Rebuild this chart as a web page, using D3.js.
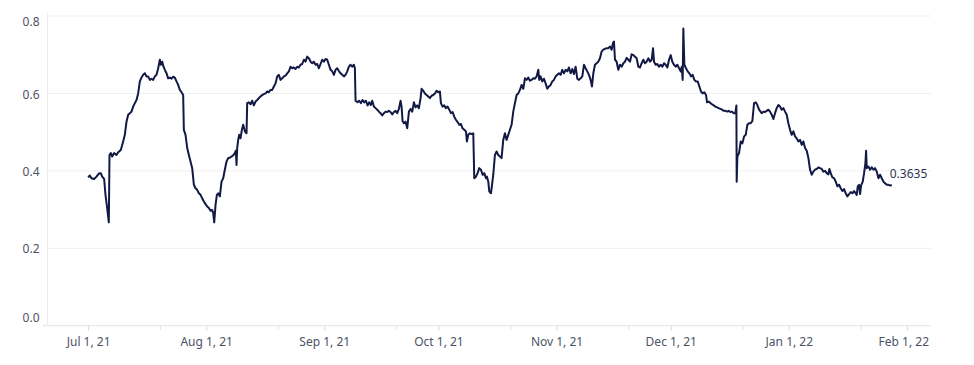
<!DOCTYPE html>
<html>
<head>
<meta charset="utf-8">
<script src="https://cdn.jsdelivr.net/npm/d3@7"></script>
<style>
body { margin: 0; background: #fff; }
svg text { font-family: "Noto Sans", sans-serif; }
</style>
</head>
<body>
<div id="chart"></div>
<script>
// days counted from Jul 1, 2021
const startDay = new Date(2021, 6, 1);

const dayOffsets = [
  0.01, 0.45, 0.88, 1.58, 2.20, 2.81, 3.33, 3.69, 4.21, 4.56, 5.00, 5.44, 5.61, 5.96, 6.31, 6.84, 7.45, 7.89, 8.59, 9.20,
  9.64, 10.08, 10.52, 10.96, 11.39, 11.83, 12.27, 12.71, 13.14, 13.58, 14.02, 14.46, 14.89, 15.33, 15.77, 16.21, 16.65, 17.08, 17.52, 17.96,
  18.40, 18.84, 19.10, 19.45, 19.80, 20.15, 20.59, 21.02, 21.46, 21.90, 22.34, 22.78, 23.21, 23.65, 24.09, 24.53, 24.96, 25.14, 25.58, 26.02,
  26.45, 26.89, 27.33, 27.77, 28.20, 28.64, 29.08, 29.52, 29.96, 30.39, 30.83, 31.27, 31.71, 32.15, 32.58, 32.85, 33.11, 33.46, 33.81, 34.16,
  34.59, 35.03, 35.47, 35.90, 36.34, 36.78, 37.22, 37.65, 38.09, 38.53, 38.79, 38.97, 39.14, 39.41, 39.67, 40.02, 40.37, 40.72, 41.16, 41.60,
  41.77, 42.21, 42.65, 43.08, 43.52, 43.96, 44.40, 44.84, 45.27, 45.71, 46.15, 46.59, 47.02, 47.46, 47.90, 48.34, 48.78, 49.21, 49.65, 50.09,
  50.53, 50.96, 51.40, 51.84, 52.28, 52.72, 53.15, 53.59, 54.03, 54.47, 54.91, 55.34, 55.78, 56.22, 56.66, 57.09, 57.53, 57.97, 58.41, 58.85,
  59.28, 59.72, 60.16, 60.60, 61.03, 61.47, 61.91, 62.35, 62.79, 63.22, 63.66, 64.10, 64.54, 64.98, 65.41, 65.85, 66.29, 66.73, 67.16, 67.60,
  68.04, 68.48, 68.92, 69.35, 69.79, 70.05, 70.23, 70.75, 71.19, 71.63, 72.06, 72.50, 72.94, 73.38, 73.82, 74.25, 74.60, 75.04, 75.48, 75.92,
  76.35, 76.79, 77.23, 77.67, 78.11, 78.54, 78.98, 79.42, 79.86, 80.30, 80.73, 81.17, 81.61, 82.05, 82.31, 82.57, 82.92, 83.36, 83.80, 84.24,
  84.67, 85.11, 85.55, 85.99, 86.42, 86.86, 87.30, 87.56, 88.00, 88.44, 88.88, 89.31, 89.75, 90.19, 90.63, 91.07, 91.50, 91.94, 92.38, 92.64,
  93.08, 93.52, 93.96, 94.39, 94.83, 95.27, 95.71, 96.14, 96.58, 97.02, 97.46, 97.90, 98.33, 98.77, 99.21, 99.47, 99.82, 100.26, 100.70, 101.14,
  101.40, 101.84, 102.27, 102.71, 103.15, 103.59, 104.03, 104.46, 104.73, 105.08, 105.34, 105.78, 105.95, 106.39, 106.82, 107.26, 107.70, 108.14, 108.57, 109.01,
  109.45, 109.89, 110.33, 110.76, 111.20, 111.64, 112.08, 112.52, 112.95, 113.39, 113.83, 114.27, 114.70, 115.14, 115.58, 116.02, 116.46, 116.89, 117.33, 117.77,
  118.21, 118.47, 118.82, 119.26, 119.70, 120.13, 120.57, 121.01, 121.45, 121.88, 122.32, 122.76, 123.20, 123.64, 124.07, 124.51, 124.95, 125.39, 125.83, 126.26,
  126.70, 127.14, 127.58, 128.01, 128.45, 128.89, 129.33, 129.77, 130.20, 130.64, 131.08, 131.52, 131.95, 132.31, 132.66, 133.09, 133.53, 133.97, 134.41, 134.84,
  135.28, 135.72, 136.16, 136.60, 137.03, 137.47, 137.82, 138.08, 138.35, 138.78, 139.22, 139.66, 140.10, 140.54, 140.97, 141.42, 141.86, 142.29, 142.73, 143.17,
  143.61, 144.04, 144.48, 144.92, 145.36, 145.80, 146.23, 146.67, 147.11, 147.55, 147.99, 148.34, 148.60, 149.04, 149.47, 149.91, 150.35, 150.79, 151.23, 151.66,
  152.10, 152.54, 152.98, 153.41, 153.85, 154.29, 154.73, 155.17, 155.60, 155.87, 156.13, 156.30, 156.57, 157.00, 157.44, 157.88, 158.32, 158.76, 159.19, 159.63,
  160.07, 160.51, 160.94, 161.38, 161.82, 162.26, 162.52, 162.96, 163.40, 163.83, 164.27, 164.71, 165.15, 165.59, 166.02, 166.46, 166.90, 167.34, 167.78, 168.21,
  168.65, 169.09, 169.53, 169.96, 170.23, 170.31, 170.49, 170.93, 171.37, 171.80, 172.24, 172.68, 173.12, 173.55, 173.99, 174.43, 174.87, 175.31, 175.74, 176.18,
  176.88, 177.32, 177.75, 178.19, 178.63, 179.07, 179.50, 179.94, 180.38, 180.82, 181.26, 181.69, 182.13, 182.57, 183.01, 183.45, 183.88, 184.32, 184.76, 185.20,
  185.63, 186.07, 186.51, 186.95, 187.39, 187.82, 188.26, 188.70, 189.14, 189.57, 190.01, 190.45, 190.89, 191.33, 191.76, 192.20, 192.64, 193.08, 193.52, 193.95,
  194.39, 194.65, 195.00, 195.44, 195.88, 196.32, 196.76, 197.19, 197.63, 198.07, 198.51, 198.94, 199.38, 199.82, 200.26, 200.70, 201.13, 201.57, 201.83, 202.10,
  202.45, 202.71, 202.97, 203.41, 203.76, 204.11, 204.29, 204.46, 204.90, 205.34, 205.77, 206.21, 206.65, 207.09, 207.53, 207.96, 208.40, 208.84, 209.28, 209.71,
  210.15, 210.59, 211.03
];

const values = [
  0.383, 0.388, 0.381, 0.379, 0.385, 0.393, 0.394, 0.385, 0.379, 0.338, 0.304, 0.267, 0.441, 0.446, 0.437, 0.446, 0.441, 0.448, 0.454, 0.476,
  0.493, 0.527, 0.545, 0.549, 0.553, 0.566, 0.575, 0.583, 0.600, 0.631, 0.641, 0.648, 0.652, 0.644, 0.644, 0.635, 0.638, 0.635, 0.644, 0.648,
  0.665, 0.687, 0.674, 0.682, 0.669, 0.661, 0.652, 0.639, 0.641, 0.638, 0.643, 0.641, 0.631, 0.622, 0.609, 0.603, 0.596, 0.506, 0.493, 0.459,
  0.441, 0.424, 0.407, 0.364, 0.355, 0.351, 0.342, 0.338, 0.329, 0.321, 0.314, 0.308, 0.304, 0.297, 0.299, 0.291, 0.267, 0.312, 0.338, 0.342,
  0.334, 0.372, 0.381, 0.403, 0.424, 0.433, 0.434, 0.437, 0.440, 0.446, 0.452, 0.415, 0.459, 0.480, 0.493, 0.484, 0.506, 0.519, 0.502, 0.497,
  0.575, 0.577, 0.572, 0.581, 0.569, 0.579, 0.583, 0.588, 0.592, 0.596, 0.598, 0.600, 0.605, 0.603, 0.609, 0.609, 0.618, 0.626, 0.644, 0.648,
  0.635, 0.639, 0.644, 0.646, 0.652, 0.657, 0.669, 0.665, 0.667, 0.663, 0.669, 0.667, 0.674, 0.676, 0.687, 0.682, 0.695, 0.691, 0.682, 0.678,
  0.682, 0.674, 0.676, 0.665, 0.676, 0.687, 0.682, 0.689, 0.687, 0.674, 0.661, 0.657, 0.648, 0.661, 0.665, 0.658, 0.652, 0.648, 0.644, 0.648,
  0.657, 0.669, 0.674, 0.669, 0.674, 0.665, 0.581, 0.577, 0.581, 0.575, 0.583, 0.577, 0.581, 0.569, 0.577, 0.570, 0.581, 0.566, 0.562, 0.558,
  0.553, 0.549, 0.543, 0.549, 0.553, 0.552, 0.555, 0.552, 0.546, 0.552, 0.555, 0.549, 0.560, 0.581, 0.566, 0.529, 0.523, 0.527, 0.510, 0.553,
  0.560, 0.553, 0.577, 0.564, 0.569, 0.562, 0.588, 0.612, 0.607, 0.600, 0.596, 0.592, 0.588, 0.594, 0.596, 0.600, 0.607, 0.603, 0.605, 0.575,
  0.566, 0.569, 0.562, 0.566, 0.558, 0.549, 0.552, 0.540, 0.532, 0.526, 0.519, 0.521, 0.510, 0.506, 0.502, 0.476, 0.493, 0.497, 0.495, 0.497,
  0.381, 0.385, 0.394, 0.407, 0.403, 0.390, 0.394, 0.381, 0.385, 0.372, 0.347, 0.342, 0.355, 0.390, 0.441, 0.450, 0.441, 0.437, 0.433, 0.480,
  0.497, 0.480, 0.493, 0.506, 0.519, 0.553, 0.575, 0.596, 0.600, 0.609, 0.622, 0.612, 0.639, 0.635, 0.641, 0.633, 0.635, 0.639, 0.638, 0.644,
  0.661, 0.635, 0.644, 0.631, 0.638, 0.626, 0.612, 0.618, 0.622, 0.631, 0.635, 0.644, 0.648, 0.652, 0.648, 0.661, 0.652, 0.661, 0.657, 0.667,
  0.652, 0.663, 0.650, 0.669, 0.638, 0.635, 0.639, 0.644, 0.674, 0.665, 0.657, 0.648, 0.635, 0.618, 0.652, 0.674, 0.678, 0.682, 0.691, 0.708,
  0.713, 0.715, 0.717, 0.717, 0.721, 0.713, 0.730, 0.734, 0.687, 0.682, 0.661, 0.674, 0.669, 0.678, 0.682, 0.692, 0.687, 0.682, 0.701, 0.699,
  0.695, 0.691, 0.669, 0.667, 0.678, 0.687, 0.678, 0.682, 0.691, 0.682, 0.687, 0.717, 0.682, 0.674, 0.676, 0.669, 0.674, 0.669, 0.678, 0.674,
  0.667, 0.687, 0.699, 0.682, 0.674, 0.669, 0.674, 0.665, 0.657, 0.669, 0.635, 0.768, 0.674, 0.665, 0.657, 0.652, 0.644, 0.648, 0.635, 0.631,
  0.631, 0.618, 0.605, 0.600, 0.603, 0.596, 0.577, 0.579, 0.575, 0.572, 0.569, 0.566, 0.564, 0.562, 0.560, 0.558, 0.555, 0.555, 0.553, 0.555,
  0.552, 0.553, 0.549, 0.549, 0.569, 0.372, 0.437, 0.446, 0.476, 0.471, 0.489, 0.493, 0.519, 0.523, 0.523, 0.529, 0.575, 0.577, 0.570, 0.558,
  0.549, 0.553, 0.552, 0.555, 0.558, 0.553, 0.545, 0.534, 0.549, 0.562, 0.570, 0.566, 0.558, 0.562, 0.553, 0.545, 0.523, 0.506, 0.493, 0.502,
  0.489, 0.484, 0.476, 0.480, 0.467, 0.476, 0.459, 0.452, 0.433, 0.403, 0.390, 0.398, 0.403, 0.405, 0.409, 0.407, 0.405, 0.398, 0.400, 0.394,
  0.391, 0.405, 0.394, 0.383, 0.381, 0.372, 0.360, 0.364, 0.355, 0.348, 0.353, 0.342, 0.334, 0.340, 0.345, 0.342, 0.348, 0.342, 0.338, 0.360,
  0.364, 0.340, 0.362, 0.372, 0.394, 0.420, 0.452, 0.407, 0.411, 0.403, 0.409, 0.403, 0.407, 0.398, 0.381, 0.390, 0.381, 0.372, 0.368, 0.364,
  0.364, 0.362, 0.3635
];

const yTicks = [0, 0.2, 0.4, 0.6, 0.8];
const xTickDates = ["2021-07-01", "2021-08-01", "2021-09-01", "2021-10-01", "2021-11-01", "2021-12-01", "2022-01-01", "2022-02-01"];
const xTickLabels = ["Jul 1, 21", "Aug 1, 21", "Sep 1, 21", "Oct 1, 21", "Nov 1, 21", "Dec 1, 21", "Jan 1, 22", "Feb 1, 22"];
const minorTickDates = ["2021-07-20", "2021-08-20", "2021-09-20", "2021-10-20", "2021-11-20", "2021-12-20", "2022-01-20"];
const lastLabel = "0.3635";

const width = 974, height = 365;
const plot = { left: 47.5, right: 931, top: 16, bottom: 325.7 };
const textColor = "#4c5266";
const lineColor = "#121944";

const parseDay = d3.timeParse("%Y-%m-%d");
const data = dayOffsets.map((d, i) => ({
  date: new Date(startDay.getTime() + d * 864e5),
  value: values[i]
}));

const svg = d3.select("#chart")
  .append("svg")
  .attr("width", width)
  .attr("height", height);

const x = d3.scaleTime()
  .domain([new Date(2021, 5, 20, 8), new Date(2022, 1, 7, 8)])
  .range([plot.left, plot.right]);

const y = d3.scaleLinear()
  .domain([0, 0.8])
  .range([plot.bottom, plot.top]);

// horizontal gridlines
svg.append("g")
  .selectAll("line")
  .data(yTicks)
  .enter()
  .append("line")
  .attr("x1", d => d == 0 ? plot.left - 5 : plot.left)
  .attr("x2", plot.right)
  .attr("y1", d => y(d))
  .attr("y2", d => y(d))
  .attr("stroke", d => d == 0 ? "#e4e4e4" : "#efefef")
  .attr("stroke-width", 1);

// left edge of the pane
svg.append("line")
  .attr("x1", plot.left).attr("x2", plot.left)
  .attr("y1", plot.top - 3).attr("y2", plot.bottom)
  .attr("stroke", "#ececec");

// y labels, end ones pulled inside the pane
svg.append("g")
  .selectAll("text")
  .data(yTicks)
  .enter()
  .append("text")
  .attr("x", 39.5)
  .attr("y", d => Math.max(plot.top + 5.8, Math.min(plot.bottom - 8.2, y(d) + 1)))
  .attr("dy", "0.35em")
  .attr("text-anchor", "end")
  .attr("font-size", 12)
  .attr("fill", textColor)
  .text(d => d3.format(".1f")(d));

// x axis
const xAxis = d3.axisBottom(x)
  .tickValues(xTickDates.map(parseDay))
  .tickSize(5)
  .tickPadding(6.5)
  .tickFormat((d, i) => xTickLabels[i]);

const gx = svg.append("g")
  .attr("transform", "translate(0," + plot.bottom + ")")
  .call(xAxis);
gx.select(".domain").remove();
gx.selectAll(".tick line").attr("stroke", "#dcdcdc");
gx.selectAll(".tick text")
  .attr("font-size", 12)
  .attr("font-family", "Noto Sans, sans-serif")
  .attr("fill", textColor)
  .each(function(d) {
    // keep labels inside the pane's right edge
    let half = this.getComputedTextLength() / 2;
    let over = x(d) + half - (plot.right - 2.5);
    if (over > 0) d3.select(this).attr("x", -over);
  });

svg.append("g")
  .selectAll("line")
  .data(minorTickDates.map(parseDay))
  .enter()
  .append("line")
  .attr("x1", d => x(d)).attr("x2", d => x(d))
  .attr("y1", plot.bottom).attr("y2", plot.bottom + 4)
  .attr("stroke", "#e2e2e2");

// the line
svg.append("path")
  .datum(data)
  .attr("fill", "none")
  .attr("stroke", lineColor)
  .attr("stroke-width", 2)
  .attr("stroke-linejoin", "round")
  .attr("d", d3.line()
    .x(d => x(d.date))
    .y(d => y(d.value))
  );

// last value label
const last = data[data.length - 1];
svg.append("text")
  .attr("x", x(last.date) - 2)
  .attr("y", y(last.value) - 11)
  .attr("dy", "0.35em")
  .attr("font-size", 12)
  .attr("fill", "#2e3450")
  .text(lastLabel);
</script>
</body>
</html>
